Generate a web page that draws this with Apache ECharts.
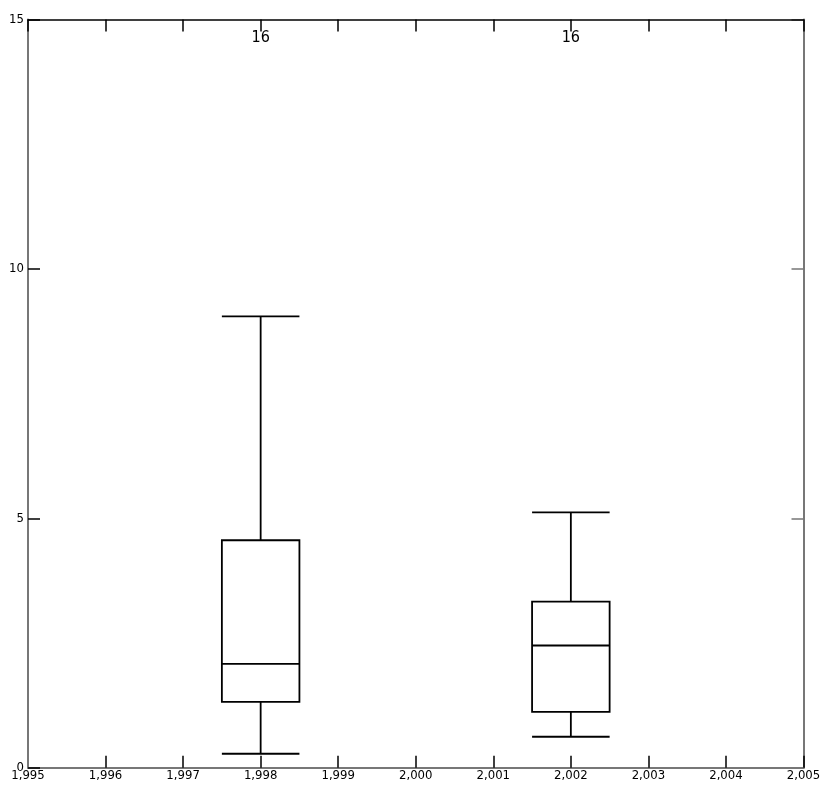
<!DOCTYPE html>
<html>
<head>
<meta charset="utf-8">
<style>
html,body{margin:0;padding:0;background:#fff;}
#chart{width:820px;height:793px;}
</style>
<script src="https://cdn.jsdelivr.net/npm/echarts@6/dist/echarts.min.js"></script>
</head>
<body>
<div id="chart"></div>
<script>
// Data
const years = [1998, 2002];
const lowWhisker = [0.28, 0.62];
const q1 = [1.32, 1.12];
const median = [2.08, 2.45];
const q3 = [4.56, 3.33];
const highWhisker = [9.05, 5.12];
const counts = [16, 16];

const xMin = 1995, xMax = 2005, xInterval = 1;
const yMin = 0, yMax = 15, yInterval = 5;

const FONT = '"DejaVu Sans Condensed", "Liberation Sans Narrow", sans-serif';

const data = years.map((y, i) => [y, lowWhisker[i], q1[i], median[i], q3[i], highWhisker[i], counts[i]]);

const chart = echarts.init(document.getElementById('chart'), null, {renderer: 'canvas'});

const lineStyle = {stroke: '#000', lineWidth: 1.8, fill: null};

function renderItem(params, api) {
  const x = api.value(0);
  const lo = api.value(1), a = api.value(2), m = api.value(3), b = api.value(4), hi = api.value(5);
  const n = api.value(6);
  const halfW = api.size([1, 0])[0] / 2;
  const pLo = api.coord([x, lo]);
  const pA = api.coord([x, a]);
  const pM = api.coord([x, m]);
  const pB = api.coord([x, b]);
  const pHi = api.coord([x, hi]);
  const pTop = api.coord([x, yMax]);
  const cx = pM[0];
  const line = (x1, y1, x2, y2) => ({type: 'line', shape: {x1, y1, x2, y2}, style: lineStyle});
  return {
    type: 'group',
    children: [
      {type: 'rect', shape: {x: cx - halfW, y: pB[1], width: 2 * halfW, height: pA[1] - pB[1]}, style: lineStyle},
      line(cx - halfW, pM[1], cx + halfW, pM[1]),
      line(cx, pHi[1], cx, pB[1]),
      line(cx, pA[1], cx, pLo[1]),
      line(cx - halfW, pHi[1], cx + halfW, pHi[1]),
      line(cx - halfW, pLo[1], cx + halfW, pLo[1]),
      {type: 'text', style: {text: String(n), x: cx, y: pTop[1] + 10, align: 'center', verticalAlign: 'top',
        fill: '#000', font: '16px ' + FONT}}
    ]
  };
}

const labelStyle = {color: '#000', fontSize: 13, fontFamily: FONT};

chart.setOption({
  animation: false,
  grid: {left: 28, right: 16.5, top: 19.5, bottom: 25.3, containLabel: false, outerBoundsMode: 'none'},
  xAxis: [
    {
      type: 'value', position: 'bottom', min: xMin, max: xMax, interval: xInterval, z: 1,
      axisLine: {show: true, onZero: false, lineStyle: {color: '#777', width: 2}},
      axisTick: {show: true, inside: true, length: 12, lineStyle: {color: '#000', width: 1.5}},
      axisLabel: Object.assign({margin: 1, formatter: v => v.toLocaleString('en-US')}, labelStyle),
      splitLine: {show: false}
    },
    {
      type: 'value', position: 'top', min: xMin, max: xMax, interval: xInterval, z: 5,
      axisLine: {show: true, onZero: false, lineStyle: {color: '#000', width: 1.5}},
      axisTick: {show: true, inside: true, length: 12, lineStyle: {color: '#000', width: 1.5}},
      axisLabel: {show: false},
      splitLine: {show: false}
    }
  ],
  yAxis: [
    {
      type: 'value', position: 'left', min: yMin, max: yMax, interval: yInterval, z: 2,
      axisLine: {show: true, onZero: false, lineStyle: {color: '#777', width: 2}},
      axisTick: {show: true, inside: true, length: 12, lineStyle: {color: '#000', width: 1.5}},
      axisLabel: Object.assign({margin: 4}, labelStyle),
      splitLine: {show: false}
    },
    {
      type: 'value', position: 'right', min: yMin, max: yMax, interval: yInterval, z: 0,
      axisLine: {show: true, onZero: false, lineStyle: {color: '#777', width: 2}},
      axisTick: {show: true, inside: true, length: 12, lineStyle: {color: '#777', width: 1.5}},
      axisLabel: {show: false},
      splitLine: {show: false}
    }
  ],
  series: [{
    type: 'custom',
    xAxisIndex: 0,
    yAxisIndex: 0,
    clip: false,
    renderItem: renderItem,
    encode: {x: 0, y: [1, 5]},
    data: data
  }]
});
</script>
</body>
</html>
